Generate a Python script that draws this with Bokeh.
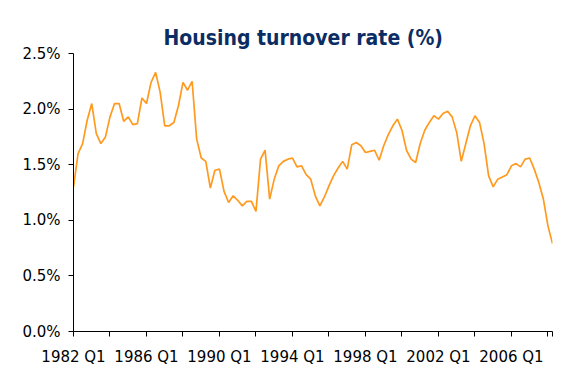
from bokeh.plotting import figure
from bokeh.models import Range1d, FixedTicker, PrintfTickFormatter, Title
from bokeh.embed import file_html
from bokeh.resources import INLINE

# Quarterly housing turnover rate (%), 1982 Q1 .. 2008 Q2
turnover = [
    1.30, 1.60, 1.69, 1.90, 2.05, 1.78, 1.69, 1.75, 1.93, 2.05,
    2.05, 1.89, 1.93, 1.86, 1.87, 2.10, 2.05, 2.24, 2.33, 2.15,
    1.85, 1.85, 1.88, 2.03, 2.24, 2.17, 2.25, 1.73, 1.56, 1.53,
    1.29, 1.45, 1.46, 1.26, 1.16, 1.22, 1.18, 1.13, 1.17, 1.17,
    1.08, 1.55, 1.63, 1.19, 1.37, 1.49, 1.53, 1.55, 1.56, 1.48,
    1.49, 1.41, 1.37, 1.22, 1.13, 1.21, 1.31, 1.40, 1.47, 1.53,
    1.46, 1.68, 1.70, 1.67, 1.61, 1.62, 1.63, 1.54, 1.67, 1.77,
    1.85, 1.91, 1.81, 1.63, 1.55, 1.52, 1.69, 1.81, 1.88, 1.94,
    1.91, 1.96, 1.98, 1.93, 1.79, 1.53, 1.69, 1.85, 1.94, 1.88,
    1.69, 1.40, 1.30, 1.37, 1.39, 1.41, 1.49, 1.51, 1.48, 1.55,
    1.56, 1.46, 1.34, 1.19, 0.95, 0.79,
]
quarter_index = list(range(len(turnover)))

tick_labels = ["1982 Q1", "1986 Q1", "1990 Q1", "1994 Q1",
               "1998 Q1", "2002 Q1", "2006 Q1"]
label_step = 16      # quarters between labels
tick_step = 8        # quarters between tick marks
y_ticks = [0.0, 0.5, 1.0, 1.5, 2.0, 2.5]
title_text = "Housing turnover rate (%)"

n = len(turnover)
p = figure(width=574, height=371, output_backend="svg", toolbar_location=None,
           x_range=Range1d(0, n - 1), y_range=Range1d(0, 2.5),
           min_border_left=73, min_border_right=22, min_border_top=53,
           min_border_bottom=40)
p.outline_line_color = None
p.xgrid.visible = False
p.ygrid.visible = False
p.background_fill_color = "white"
p.border_fill_color = "white"

p.line(quarter_index, turnover, line_color="#FF9A1F", line_width=1.7)

font = "DejaVu Sans"

# y axis
p.yaxis.ticker = FixedTicker(ticks=y_ticks)
p.yaxis.formatter = PrintfTickFormatter(format="%.1f%%")
p.yaxis.major_tick_out = 5
p.yaxis.major_tick_in = 0
p.yaxis.minor_tick_line_color = None
p.yaxis.axis_line_color = "black"
p.yaxis.major_tick_line_color = "black"
p.yaxis.major_label_text_font = font
p.yaxis.major_label_text_font_size = "15px"
p.yaxis.major_label_text_color = "black"
p.yaxis.major_label_standoff = 8

# x axis
ticks = list(range(0, n, tick_step)) + [n - 1]
overrides = {}
for t in ticks:
    overrides[t] = ""
for i, lab in enumerate(tick_labels):
    overrides[i * label_step] = lab
p.xaxis.ticker = FixedTicker(ticks=ticks)
p.xaxis.major_label_overrides = overrides
p.xaxis.major_tick_out = 5
p.xaxis.major_tick_in = 0
p.xaxis.minor_tick_line_color = None
p.xaxis.axis_line_color = "black"
p.xaxis.major_tick_line_color = "black"
p.xaxis.major_label_text_font = font
p.xaxis.major_label_text_font_size = "15px"
p.xaxis.major_label_text_color = "black"
p.xaxis.major_label_standoff = 11

title = Title(text=title_text, align="left", offset=90,
              text_font="DejaVu Sans Condensed", text_font_style="bold",
              text_font_size="21px", text_color="#0B2D63", standoff=7)
p.add_layout(title, "above")

open("out.html", "w").write(file_html(p, INLINE))
